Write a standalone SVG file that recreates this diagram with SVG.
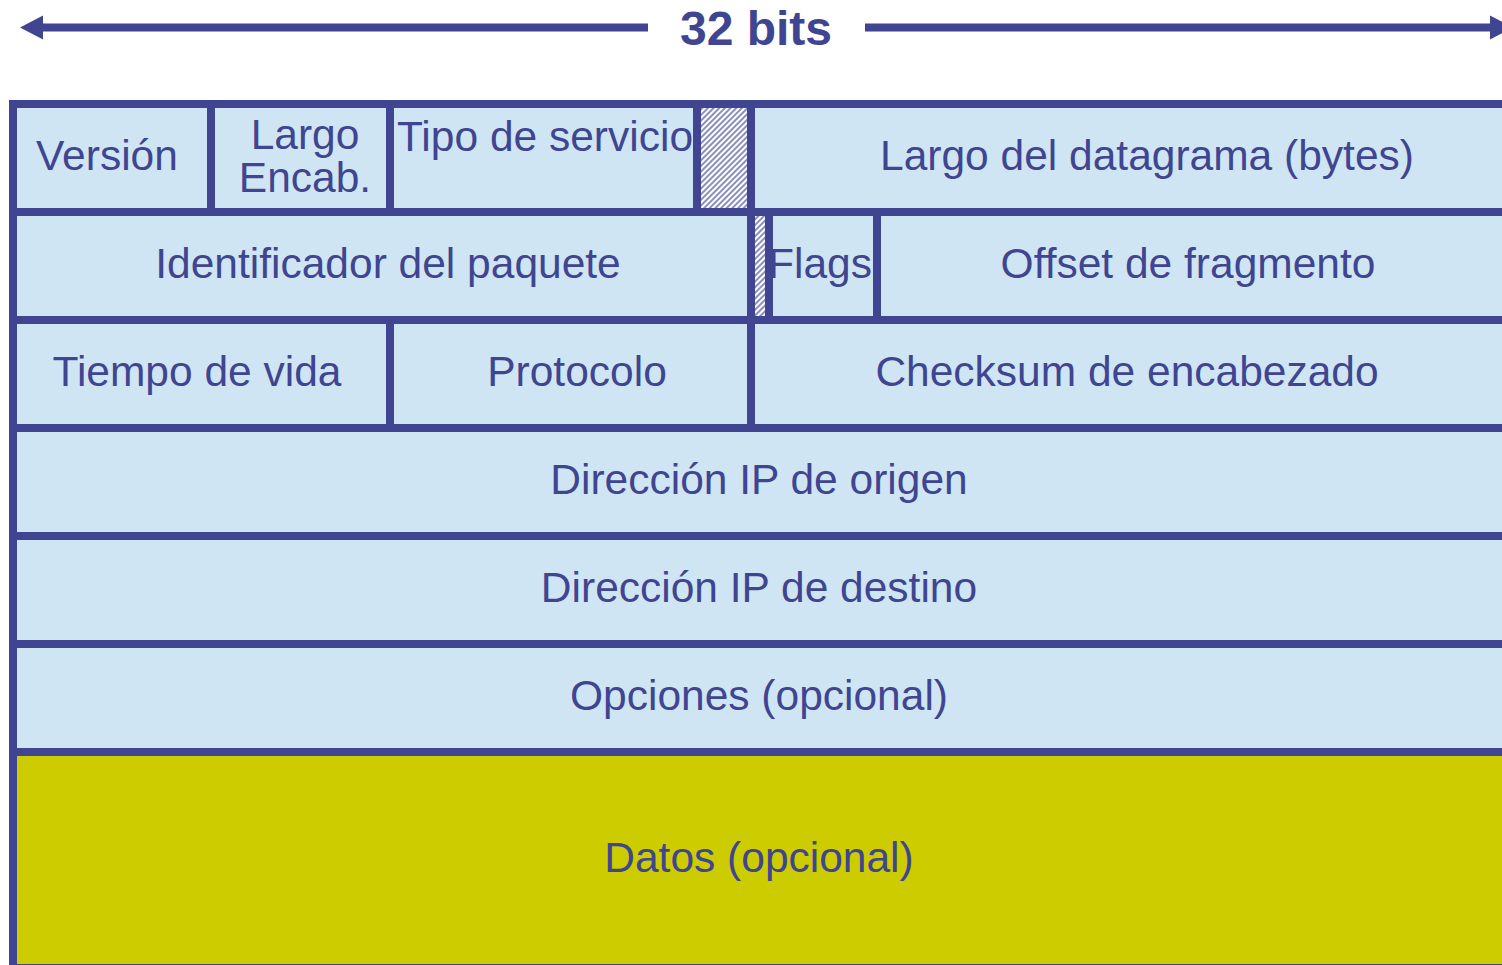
<svg xmlns="http://www.w3.org/2000/svg" width="1502" height="965" viewBox="0 0 1502 965">
<style>
.c{fill:#cfe5f3;stroke:#3f4590;stroke-width:8}
.d{fill:#cccc00;stroke:#3f4590;stroke-width:8}
.h{fill:url(#hatch);stroke:#3f4590;stroke-width:8}
.t{font-family:"Liberation Sans",Arial,sans-serif;font-size:42.5px;fill:#3f4590;text-anchor:middle}
.b{font-family:"Liberation Sans",Arial,sans-serif;font-size:48px;font-weight:bold;fill:#3f4590;text-anchor:middle}
</style>
<defs>
<pattern id="hatch" width="4" height="4" patternUnits="userSpaceOnUse" patternTransform="rotate(45)">
<rect width="4" height="4" fill="#ffffff"/>
<line x1="1" y1="0" x2="1" y2="4" stroke="#5a5f9e" stroke-width="1.4"/>
</pattern>
</defs>
<rect width="1502" height="965" fill="#ffffff"/>
<g id="connectors">
<line x1="40" y1="27.5" x2="648" y2="27.5" stroke="#3f4590" stroke-width="8"/>
<polygon points="20,27.5 43,15.5 43,39.5" fill="#3f4590"/>
<line x1="865" y1="27.5" x2="1492" y2="27.5" stroke="#3f4590" stroke-width="8"/>
<polygon points="1513,27.5 1490,15.5 1490,39.5" fill="#3f4590"/>
</g>
<g id="title"><text class="b" x="756" y="45">32 bits</text></g>
<g id="version"><rect class="c" x="13" y="104" width="198" height="108"/><text class="t" x="107" y="170">Versión</text></g>
<g id="largo-encab"><rect class="c" x="211" y="104" width="179" height="108"/><text class="t" x="305" y="149">Largo</text><text class="t" x="305" y="192">Encab.</text></g>
<g id="tipo-servicio"><rect class="c" x="390" y="104" width="307" height="108"/><text class="t" x="545" y="151">Tipo de servicio</text></g>
<g id="hatch1"><rect class="h" x="697" y="104" width="54" height="108"/></g>
<g id="largo-datagrama"><rect class="c" x="751" y="104" width="765" height="108"/><text class="t" x="1147" y="170">Largo del datagrama (bytes)</text></g>
<g id="identificador"><rect class="c" x="13" y="212" width="738" height="108"/><text class="t" x="388" y="278">Identificador del paquete</text></g>
<g id="hatch2"><rect class="h" x="751" y="212" width="18" height="108"/></g>
<g id="flags"><rect class="c" x="769" y="212" width="108" height="108"/><text class="t" x="820" y="278">Flags</text></g>
<g id="offset"><rect class="c" x="877" y="212" width="639" height="108"/><text class="t" x="1188" y="278">Offset de fragmento</text></g>
<g id="tiempo"><rect class="c" x="13" y="320" width="377" height="108"/><text class="t" x="197" y="386">Tiempo de vida</text></g>
<g id="protocolo"><rect class="c" x="390" y="320" width="361" height="108"/><text class="t" x="577" y="386">Protocolo</text></g>
<g id="checksum"><rect class="c" x="751" y="320" width="765" height="108"/><text class="t" x="1127" y="386">Checksum de encabezado</text></g>
<g id="ip-origen"><rect class="c" x="13" y="428" width="1503" height="108"/><text class="t" x="759" y="494">Dirección IP de origen</text></g>
<g id="ip-destino"><rect class="c" x="13" y="536" width="1503" height="108"/><text class="t" x="759" y="602">Dirección IP de destino</text></g>
<g id="opciones"><rect class="c" x="13" y="644" width="1503" height="108"/><text class="t" x="759" y="710">Opciones (opcional)</text></g>
<g id="datos"><rect class="d" x="13" y="752" width="1503" height="216"/><text class="t" x="759" y="872">Datos (opcional)</text></g>
</svg>
